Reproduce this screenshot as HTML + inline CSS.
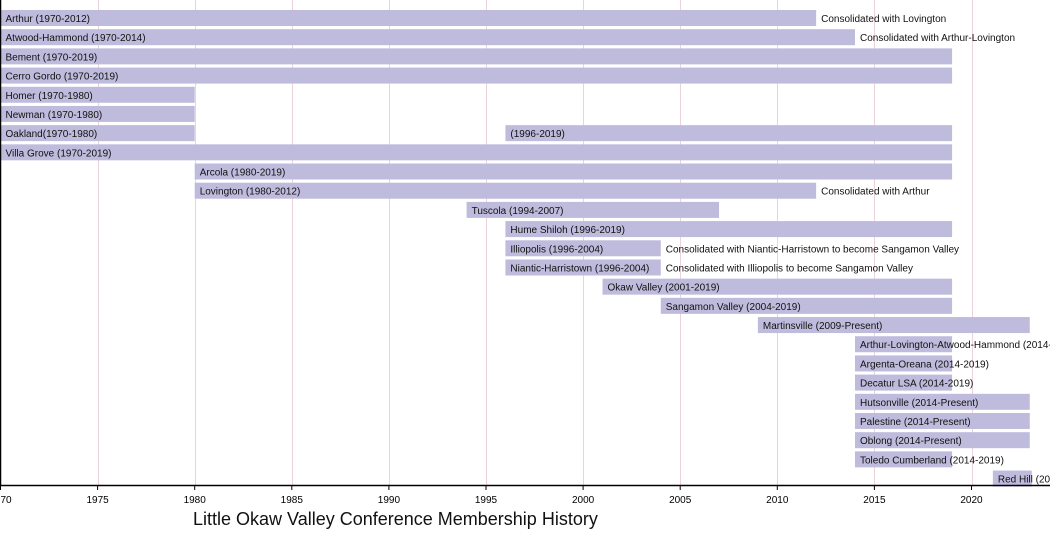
<!DOCTYPE html>
<html><head><meta charset="utf-8"><style>
html,body{margin:0;padding:0;background:#fff;width:1050px;height:535px;overflow:hidden}
svg{display:block;font-family:"Liberation Sans",Arial,sans-serif}
</style></head><body>
<svg id="s" width="1050" height="535" xmlns="http://www.w3.org/2000/svg">
<g id="grid" stroke="#ecd2dc" stroke-width="1"></g>
<g id="bars"></g>
<line x1="0" y1="485.5" x2="1050" y2="485.5" stroke="#000" stroke-width="1.5"/>
<line x1="0.5" y1="0" x2="0.5" y2="485" stroke="#000" stroke-width="1.5"/>
<g id="ticks" font-size="10" fill="#000"></g>
<text x="193" y="525" font-size="18" fill="#111">Little Okaw Valley Conference Membership History</text>
</svg>
<script>
(function(){
var S=19.42,X=function(y){return (y-1970)*S+0.5;};
var ns="http://www.w3.org/2000/svg";
function el(p,t,a,txt){var e=document.createElementNS(ns,t);for(var k in a)e.setAttribute(k,a[k]);if(txt!=null)e.textContent=txt;p.appendChild(e);return e;}
var g=document.getElementById('grid'),b=document.getElementById('bars'),tk=document.getElementById('ticks');
for(var y=1975;y<=2020;y+=5){var x=Math.round(X(y))+0.5;el(g,'line',{x1:x,y1:0,x2:x,y2:485});}
for(var y=1970;y<=2020;y+=5){var x=X(y);el(tk,'line',{x1:x,y1:485,x2:x,y2:490,stroke:'#000'});el(tk,'text',{x:x,y:503,'text-anchor':'middle'},String(y));}
var rows=[
[[1970,2012,"Arthur (1970-2012)"]],"Consolidated with Lovington",
[[1970,2014,"Atwood-Hammond (1970-2014)"]],"Consolidated with Arthur-Lovington",
[[1970,2019,"Bement (1970-2019)"]],"",
[[1970,2019,"Cerro Gordo (1970-2019)"]],"",
[[1970,1980,"Homer (1970-1980)"]],"",
[[1970,1980,"Newman (1970-1980)"]],"",
[[1970,1980,"Oakland(1970-1980)"],[1996,2019,"(1996-2019)"]],"",
[[1970,2019,"Villa Grove (1970-2019)"]],"",
[[1980,2019,"Arcola (1980-2019)"]],"",
[[1980,2012,"Lovington (1980-2012)"]],"Consolidated with Arthur",
[[1994,2007,"Tuscola (1994-2007)"]],"",
[[1996,2019,"Hume Shiloh (1996-2019)"]],"",
[[1996,2004,"Illiopolis (1996-2004)"]],"Consolidated with Niantic-Harristown to become Sangamon Valley",
[[1996,2004,"Niantic-Harristown (1996-2004)"]],"Consolidated with Illiopolis to become Sangamon Valley",
[[2001,2019,"Okaw Valley (2001-2019)"]],"",
[[2004,2019,"Sangamon Valley (2004-2019)"]],"",
[[2009,2023,"Martinsville (2009-Present)"]],"",
[[2014,2019,"Arthur-Lovington-Atwood-Hammond (2014-2019)"]],"",
[[2014,2019,"Argenta-Oreana (2014-2019)"]],"",
[[2014,2019,"Decatur LSA (2014-2019)"]],"",
[[2014,2023,"Hutsonville (2014-Present)"]],"",
[[2014,2023,"Palestine (2014-Present)"]],"",
[[2014,2023,"Oblong (2014-Present)"]],"",
[[2014,2019,"Toledo Cumberland (2014-2019)"]],"",
[[2021.1,2023.1,"Red Hill (2021-Present)"]],""
];
for(var i=0;i<rows.length;i+=2){
  var r=i/2,ty=10+r*19.19,segs=rows[i],note=rows[i+1],end=0;
  for(var j=0;j<segs.length;j++){var s=segs[j];var x0=X(s[0]),x1=X(s[1]);end=x1;
    el(b,'rect',{x:x0,y:ty,width:x1-x0,height:16,fill:'#bfbbdd'});
    el(b,'text',{x:x0+5,y:ty+12,'font-size':10,fill:'#111'},s[2]);}
  if(note)el(b,'text',{x:end+5,y:ty+12,'font-size':10,fill:'#111'},note);
}
})();
</script>
</body></html>
